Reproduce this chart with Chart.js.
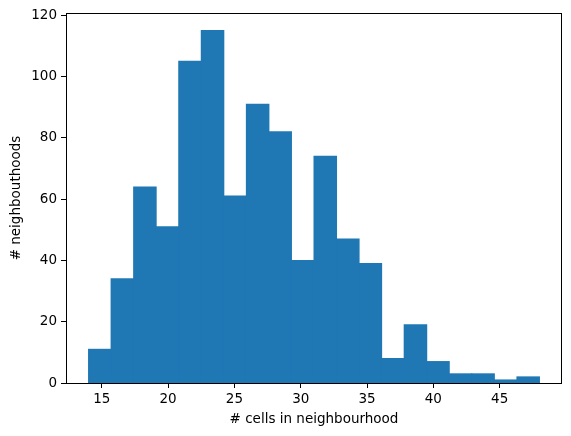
<!DOCTYPE html>
<html>
<head>
    <title>Neighbourhood sizes</title>
    <script src="https://cdn.jsdelivr.net/npm/chart.js"></script>
    <style>
        body { margin: 0; background: #fff; }
    </style>
</head>
<body>
    <canvas id="myChart" width="571" height="436"></canvas>

    <script>
        // histogram: 20 bins between 14 and 48
        var binEdges = [14, 15.7, 17.4, 19.1, 20.8, 22.5, 24.2, 25.9, 27.6, 29.3, 31,
                        32.7, 34.4, 36.1, 37.8, 39.5, 41.2, 42.9, 44.6, 46.3, 48];
        var counts = [11, 34, 64, 51, 105, 115, 61, 91, 82, 40, 74, 47, 39, 8, 19, 7, 3, 3, 1, 2];
        var xTicks = [15, 20, 25, 30, 35, 40, 45];
        var yTicks = [0, 20, 40, 60, 80, 100, 120];

        var points = counts.map((c, i) => ({ x: (binEdges[i] + binEdges[i + 1]) / 2, y: c }));

        // matplotlib style 5% margins
        var span = binEdges[binEdges.length - 1] - binEdges[0];
        var xMin = binEdges[0] - span * 0.05;
        var xMax = binEdges[binEdges.length - 1] + span * 0.05;
        var yMax = Math.max(...counts) * 1.05;

        Chart.defaults.font.family = 'DejaVu Sans';
        Chart.defaults.font.size = 13.5;
        Chart.defaults.color = '#000';

        var frame = {
            id: 'frame',
            afterDraw(chart) {
                var a = chart.chartArea, c = chart.ctx;
                c.save();
                c.strokeStyle = '#000';
                c.lineWidth = 1;
                c.strokeRect(Math.round(a.left) + 0.5, Math.round(a.top) + 0.5,
                             Math.round(a.right - a.left) - 1, Math.round(a.bottom - a.top));
                c.restore();
            }
        };

        var ctx = document.getElementById('myChart').getContext('2d');
        var myChart = new Chart(ctx, {
            type: 'bar',
            data: {
                datasets: [{
                    data: points,
                    backgroundColor: '#1f77b4',
                    borderWidth: 0,
                    inflateAmount: 0.5,
                    barPercentage: 1,
                    categoryPercentage: 1
                }]
            },
            options: {
                responsive: false,
                animation: false,
                layout: { padding: { top: 13, right: 9, left: 0, bottom: 0 } },
                plugins: { legend: { display: false }, tooltip: { enabled: false } },
                scales: {
                    x: {
                        type: 'linear',
                        offset: false,
                        min: xMin,
                        max: xMax,
                        afterFit: s => { s.height = 53; },
                        afterBuildTicks: s => { s.ticks = xTicks.map(v => ({ value: v })); },
                        grid: { offset: false, drawOnChartArea: false, color: '#000', tickLength: 5 },
                        border: { display: false },
                        ticks: { padding: 3, maxRotation: 0 },
                        title: { display: true, text: '# cells in neighbourhood', padding: { top: 2, bottom: 8 } }
                    },
                    y: {
                        min: 0,
                        max: yMax,
                        afterFit: s => { s.width = 66; },
                        afterBuildTicks: s => { s.ticks = yTicks.map(v => ({ value: v })); },
                        grid: { drawOnChartArea: false, color: '#000', tickLength: 5 },
                        border: { display: false },
                        ticks: { padding: 4 },
                        title: { display: true, text: '# neighbouthoods', padding: { top: 8, bottom: 4 } }
                    }
                }
            },
            plugins: [frame]
        });
    </script>
</body>
</html>
